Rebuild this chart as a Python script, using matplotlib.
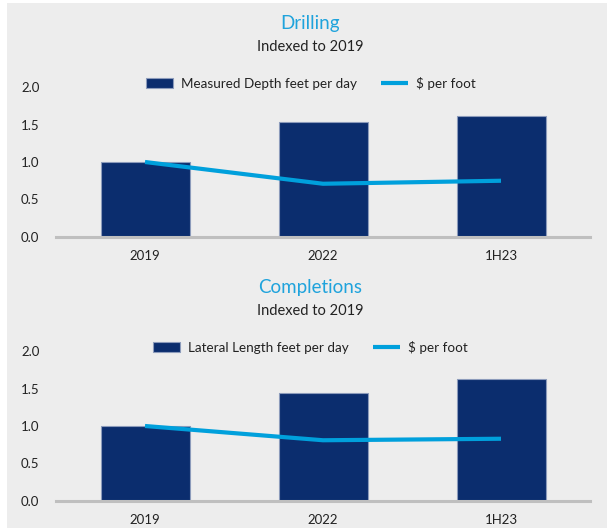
import matplotlib.pyplot as plt
from matplotlib.patches import Rectangle

categories = ["2019", "2022", "1H23"]

drill_depth = [1.0, 1.53, 1.61]
drill_cost = [1.0, 0.71, 0.75]

comp_length = [1.0, 1.44, 1.63]
comp_cost = [1.0, 0.81, 0.83]

yticks = [0.0, 0.5, 1.0, 1.5, 2.0]

bar_color = "#0b2d6e"
line_color = "#00a0dc"
title_color = "#1fa3dc"
text_color = "#222222"

plt.rcParams["font.family"] = ["Lato", "DejaVu Sans"]

fig = plt.figure(figsize=(6.07, 5.28), dpi=100)
fig.patch.set_facecolor("white")
# gray panel behind everything
fig.patches.append(Rectangle((7 / 607, 0), 1, 1 - 3 / 528, transform=fig.transFigure,
                             facecolor="#ededed", edgecolor="none", zorder=-10))


def draw_panel(rect, bars, line, bar_label, title, title_y):
    ax = fig.add_axes(rect)
    ax.set_facecolor("none")
    x = range(len(categories))
    b = ax.bar(x, bars, width=0.5, color=bar_color, edgecolor="#8c9bbb", linewidth=0.8,
               label=bar_label, zorder=2)
    l, = ax.plot(x, line, color=line_color, linewidth=3, solid_capstyle="butt",
                 label="$ per foot", zorder=3)
    ax.set_xlim(-0.5, 2.5)
    ax.set_ylim(0, 2.0)
    ax.set_yticks(yticks)
    ax.set_yticklabels([f"{v:.1f}" for v in yticks])
    ax.set_xticks(list(x))
    ax.set_xticklabels(categories)
    for s in ["top", "right", "left"]:
        ax.spines[s].set_visible(False)
    ax.spines["bottom"].set_color("#bfbfbf")
    ax.spines["bottom"].set_linewidth(2.2)
    ax.spines["bottom"].set_zorder(4)
    ax.tick_params(axis="y", length=0, pad=12, labelsize=9.5, labelcolor=text_color)
    ax.tick_params(axis="x", length=0, pad=9, labelsize=9.5, labelcolor=text_color)
    ax.legend([b, l], [bar_label, "$ per foot"], loc="center", bbox_to_anchor=(0.477, 1.025),
              ncol=2, frameon=False, fontsize=9.7, handlelength=2.0, handleheight=0.7,
              columnspacing=1.8, handletextpad=0.6, labelcolor=text_color)
    fig.text(0.511, title_y, title, ha="center", va="center", fontsize=13.5, color=title_color)
    fig.text(0.511, title_y - 23 / 528, "Indexed to 2019", ha="center", va="center",
             fontsize=10.5, color=text_color)
    return ax


draw_panel([56 / 607, 1 - 237 / 528, 534 / 607, 150 / 528], drill_depth, drill_cost,
           "Measured Depth feet per day", "Drilling", 1 - 24 / 528)
draw_panel([56 / 607, 1 - 501 / 528, 534 / 607, 150 / 528], comp_length, comp_cost,
           "Lateral Length feet per day", "Completions", 1 - 288 / 528)

fig.savefig("out.png", dpi=100)
